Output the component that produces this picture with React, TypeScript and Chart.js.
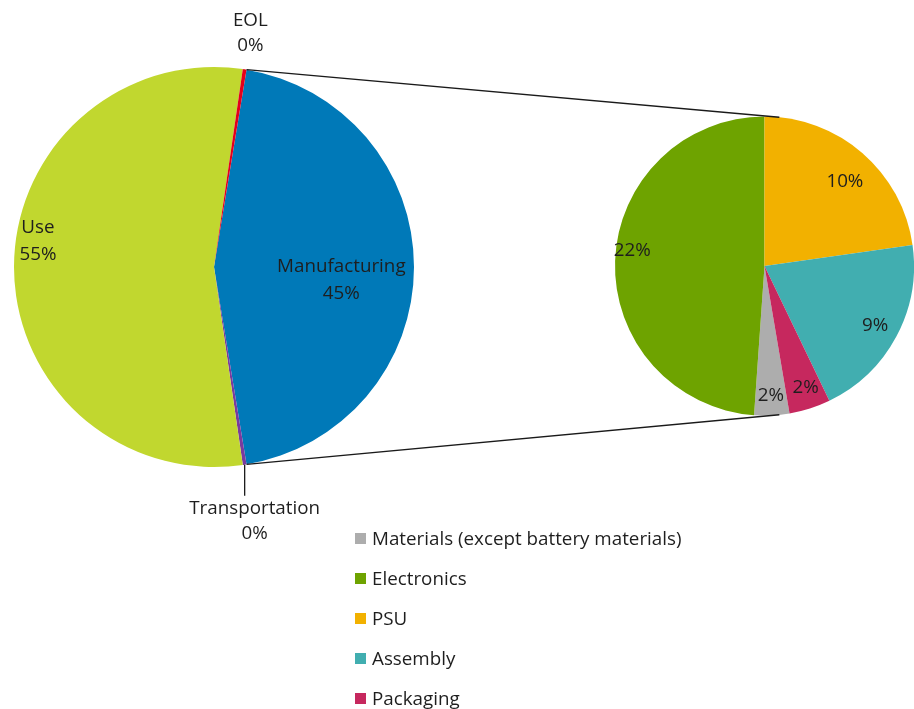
import React, { useEffect, useRef } from 'react';
import { Chart, registerables } from 'chart.js';

Chart.register(...registerables);

// ---------- data ----------
const mainLabels = ['Manufacturing', 'Transportation', 'Use', 'EOL'];
const mainValues = [44.8, 0.3, 54.6, 0.3];
const mainColors = ['#0079B8', '#7A3B9E', '#C1D72F', '#E3001B'];

const subLabels = ['Materials (except battery materials)', 'Electronics', 'PSU', 'Assembly', 'Packaging'];
const subValues = [1.7, 21.9, 10.2, 9.0, 2.0];
const subColors = ['#ADADAD', '#6EA300', '#F2B100', '#41AEB0', '#C6285E'];

const W = 914;
const H = 709;
const FONT = '"Open Sans", sans-serif';
const FS = 18.8;
const TXT = '#1e1e1e';

const mainTotal = mainValues.reduce((a, b) => a + b, 0);
const subTotal = subValues.reduce((a, b) => a + b, 0);
const pct = (v: number) => Math.round((v / mainTotal) * 100) + '%';

// rotation so that Manufacturing is centered at 3 o'clock
const mainRotation = 90 - (180 * mainValues[0]) / mainTotal;
// sub pie: PSU starts at 12 o'clock
const subRotation = 360 - (360 * (subValues[0] + subValues[1])) / subTotal;

const deg = Math.PI / 180;

// label placement (style only)
const mainPlace: Record<string, { f: number; da: number }> = {
  Manufacturing: { f: 0.64, da: 5.8 },
  Use: { f: 0.89, da: 8.4 },
  EOL: { f: 1.185, da: 0 },
};
const subPlace = [
  { f: 0.87, da: 0 },
  { f: 0.89, da: 4.4 },
  { f: 0.78, da: 2.6 },
  { f: 0.84, da: 0 },
  { f: 0.86, da: -1 },
];

function drawLines(ctx: CanvasRenderingContext2D, lines: string[], x: number, y: number, lh: number) {
  const n = lines.length;
  lines.forEach((t, k) => {
    ctx.fillText(t, x, y + (k - (n - 1) / 2) * lh);
  });
}

const mainLabelPlugin = {
  id: 'mainLabels',
  afterDatasetsDraw(chart: any) {
    const ctx: CanvasRenderingContext2D = chart.ctx;
    const meta = chart.getDatasetMeta(0);
    ctx.save();
    ctx.font = `${FS}px ${FONT}`;
    ctx.fillStyle = TXT;
    ctx.textAlign = 'center';
    ctx.textBaseline = 'middle';
    meta.data.forEach((arc: any, i: number) => {
      const p = arc.getProps(['x', 'y', 'startAngle', 'endAngle', 'outerRadius'], true);
      const mid = (p.startAngle + p.endAngle) / 2;
      const name = mainLabels[i];
      const text = pct(mainValues[i]);
      if (name === 'Transportation') {
        const x0 = p.x + Math.cos(mid) * p.outerRadius;
        const y0 = p.y + Math.sin(mid) * p.outerRadius;
        ctx.strokeStyle = '#1a1a1a';
        ctx.lineWidth = 1.3;
        ctx.beginPath();
        ctx.moveTo(x0, y0);
        ctx.lineTo(x0, y0 + 31);
        ctx.stroke();
        drawLines(ctx, [name, text], x0 + 10, y0 + 57, 25);
        return;
      }
      const pl = mainPlace[name];
      const a = mid + pl.da * deg;
      const x = p.x + Math.cos(a) * p.outerRadius * pl.f;
      const y = p.y + Math.sin(a) * p.outerRadius * pl.f;
      drawLines(ctx, [name, text], x, y, name === 'EOL' ? 25 : 27);
    });
    ctx.restore();
  },
};

export default function App() {
  const mainRef = useRef<HTMLCanvasElement>(null);
  const subRef = useRef<HTMLCanvasElement>(null);

  useEffect(() => {
    if (!mainRef.current || !subRef.current) return;
    const mainChart = new Chart(mainRef.current, {
      type: 'pie',
      data: {
        labels: mainLabels,
        datasets: [{ data: mainValues, backgroundColor: mainColors, borderWidth: 0 }],
      },
      options: {
        responsive: false,
        animation: false,
        rotation: mainRotation,
        layout: { padding: { left: 14, right: W - 414, top: 67, bottom: H - 467 } },
        plugins: { legend: { display: false }, tooltip: { enabled: false } },
      },
      plugins: [mainLabelPlugin],
    });

    const subPlugin = {
      id: 'subLabels',
      afterDatasetsDraw(chart: any) {
        const ctx: CanvasRenderingContext2D = chart.ctx;
        const meta = chart.getDatasetMeta(0);
        ctx.save();
        // connector lines from main slice edges to sub pie
        const m = mainChart.getDatasetMeta(0).data[0] as any;
        const mp = m.getProps(['x', 'y', 'startAngle', 'endAngle', 'outerRadius'], true);
        const s0 = meta.data[0].getProps(['x', 'y', 'outerRadius'], true);
        const top = { x: s0.x + Math.cos(-84.3 * deg) * s0.outerRadius, y: s0.y + Math.sin(-84.3 * deg) * s0.outerRadius };
        const bot = { x: s0.x + Math.cos(84.3 * deg) * s0.outerRadius, y: s0.y + Math.sin(84.3 * deg) * s0.outerRadius };
        ctx.strokeStyle = '#1a1a1a';
        ctx.lineWidth = 1.3;
        ctx.beginPath();
        ctx.moveTo(mp.x + Math.cos(mp.startAngle) * mp.outerRadius, mp.y + Math.sin(mp.startAngle) * mp.outerRadius);
        ctx.lineTo(top.x, top.y);
        ctx.moveTo(mp.x + Math.cos(mp.endAngle) * mp.outerRadius, mp.y + Math.sin(mp.endAngle) * mp.outerRadius);
        ctx.lineTo(bot.x, bot.y);
        ctx.stroke();

        ctx.font = `${FS}px ${FONT}`;
        ctx.fillStyle = TXT;
        ctx.textAlign = 'center';
        ctx.textBaseline = 'middle';
        meta.data.forEach((arc: any, i: number) => {
          const p = arc.getProps(['x', 'y', 'startAngle', 'endAngle', 'outerRadius'], true);
          const mid = (p.startAngle + p.endAngle) / 2 + subPlace[i].da * deg;
          const r = p.outerRadius * subPlace[i].f;
          ctx.fillText(pct(subValues[i]), p.x + Math.cos(mid) * r, p.y + Math.sin(mid) * r);
        });
        ctx.restore();
      },
    };

    const subChart = new Chart(subRef.current, {
      type: 'pie',
      data: {
        labels: subLabels,
        datasets: [{ data: subValues, backgroundColor: subColors, borderWidth: 0 }],
      },
      options: {
        responsive: false,
        animation: false,
        rotation: subRotation,
        layout: { padding: { left: 615, right: 0, top: 116.5, bottom: H - 116.5 - 299 } },
        plugins: { legend: { display: false }, tooltip: { enabled: false } },
      },
      plugins: [subPlugin],
    });

    return () => {
      subChart.destroy();
      mainChart.destroy();
    };
  }, []);

  return (
    <div style={{ position: 'absolute', left: 0, top: 0, width: W, height: H, background: '#fff', overflow: 'hidden' }}>
      <canvas ref={mainRef} width={W} height={H} style={{ position: 'absolute', left: 0, top: 0 }} />
      <canvas ref={subRef} width={W} height={H} style={{ position: 'absolute', left: 0, top: 0 }} />
      <div style={{ position: 'absolute', left: 355, top: 518, fontFamily: FONT, fontSize: FS, color: TXT }}>
        {subLabels.map((l, i) => (
          <div key={l} style={{ display: 'flex', alignItems: 'center', height: 40, lineHeight: '24px' }}>
            <span style={{ display: 'inline-block', width: 11, height: 11, background: subColors[i], marginRight: 6 }} />
            <span>{l}</span>
          </div>
        ))}
      </div>
    </div>
  );
}
